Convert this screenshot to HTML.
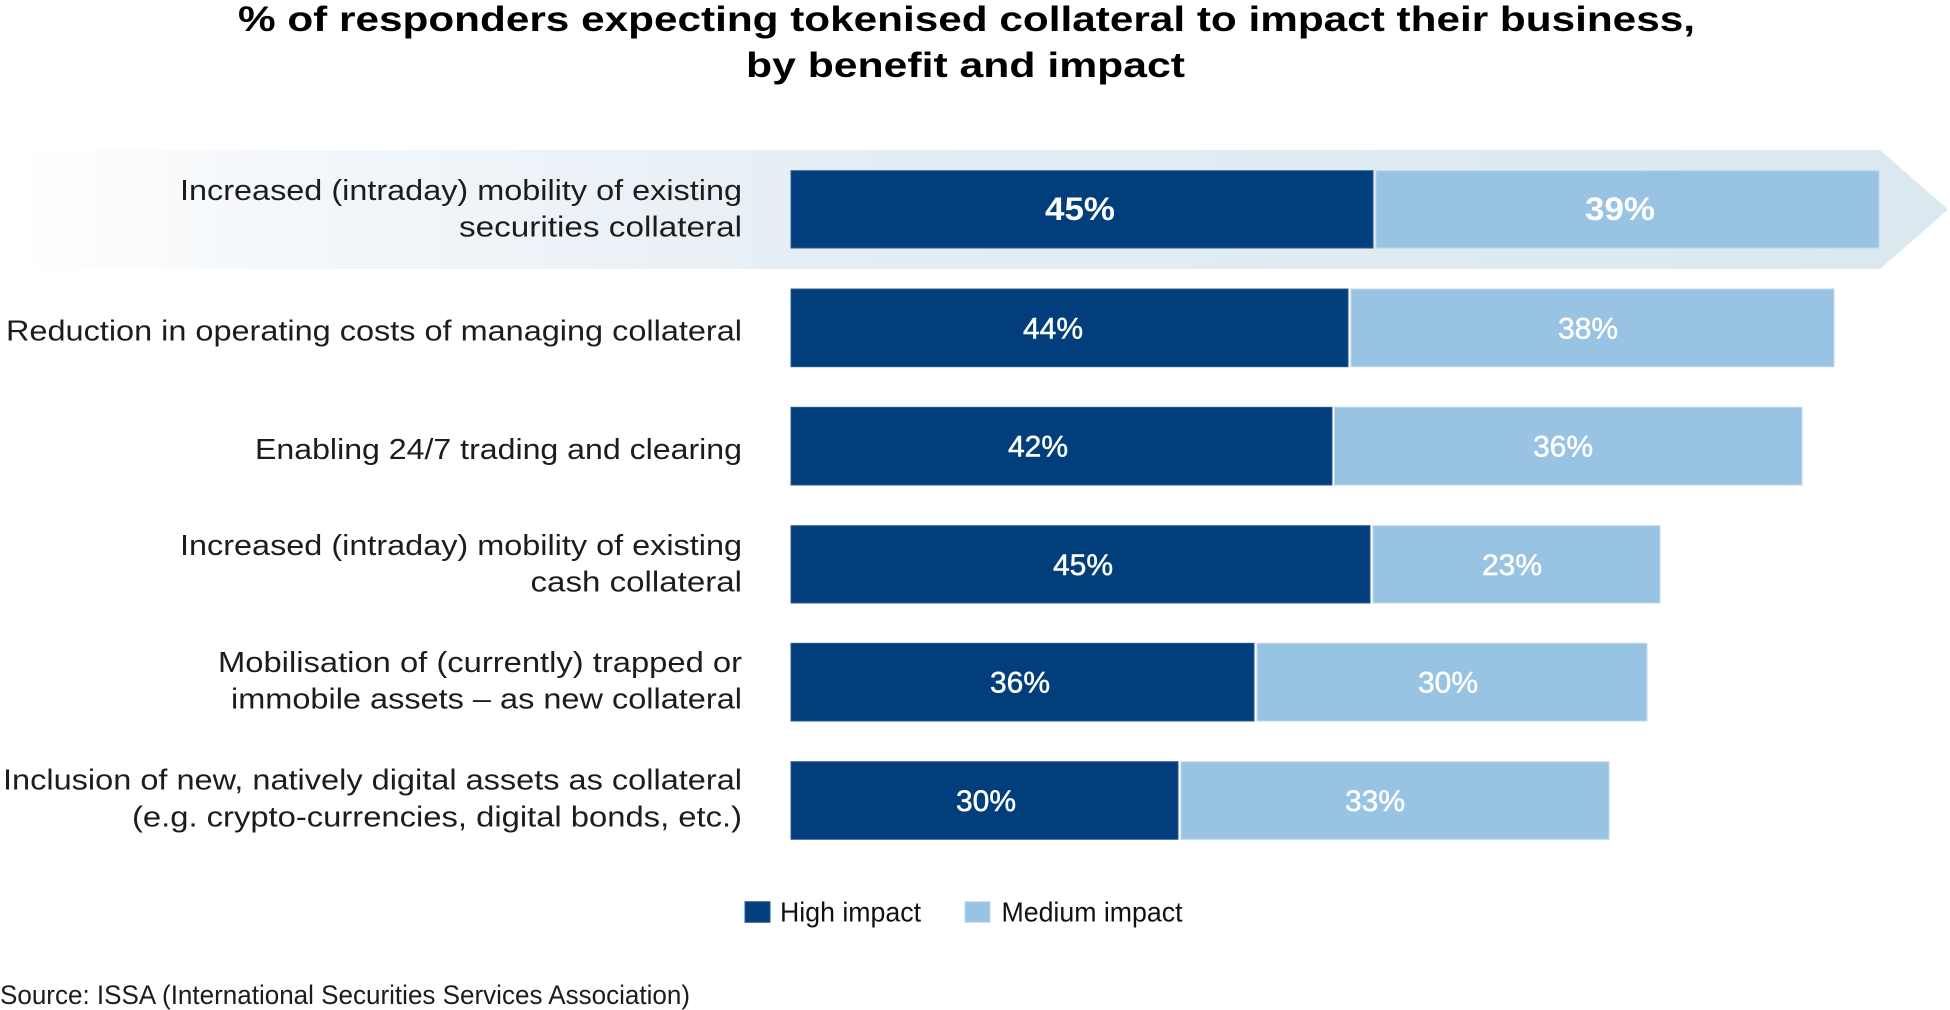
<!DOCTYPE html>
<html>
<head>
<meta charset="utf-8">
<style>
  html, body { margin: 0; padding: 0; background: #ffffff; }
  body { width: 1950px; height: 1010px; overflow: hidden; }
  svg { display: block; }
  .t { font-family: "Liberation Sans", Arial, sans-serif; }
</style>
</head>
<body>
<svg width="1950" height="1010" viewBox="0 0 1950 1010" xmlns="http://www.w3.org/2000/svg">
  <defs>
    <linearGradient id="band" gradientUnits="userSpaceOnUse" x1="20" y1="0" x2="1948" y2="0">
      <stop offset="0" stop-color="#ffffff"/>
      <stop offset="0.12" stop-color="#f5f8fb"/>
      <stop offset="0.45" stop-color="#e3edf4"/>
      <stop offset="1" stop-color="#dbe8f0"/>
    </linearGradient>
  </defs>
  <rect x="0" y="0" width="1950" height="1010" fill="#ffffff"/>

  <!-- Title -->
  <g class="t" font-weight="bold" font-size="35" fill="#000000">
    <text x="238" y="31" textLength="1457" lengthAdjust="spacingAndGlyphs">% of responders expecting tokenised collateral to impact their business,</text>
    <text x="746" y="77" textLength="439" lengthAdjust="spacingAndGlyphs">by benefit and impact</text>
  </g>

  <!-- Highlight arrow band -->
  <polygon points="24,150 1880,150 1948,209.5 1880,269 24,269" fill="url(#band)"/>

  <!-- Bars -->
  <g stroke-width="1">
    <rect x="791" y="170.7" width="582" height="77.3" fill="#023e7b" stroke="#2a5a8e"/>
    <rect x="1376" y="170.7" width="503" height="77.3" fill="#99c3e3" stroke="#bcd8ee"/>

    <rect x="791" y="289" width="557" height="77.7" fill="#023e7b" stroke="#2a5a8e"/>
    <rect x="1351" y="289" width="483" height="77.7" fill="#99c3e3" stroke="#bcd8ee"/>

    <rect x="791" y="407.3" width="541" height="77.7" fill="#023e7b" stroke="#2a5a8e"/>
    <rect x="1334.5" y="407.3" width="467.5" height="77.7" fill="#99c3e3" stroke="#bcd8ee"/>

    <rect x="791" y="525.7" width="579" height="77.3" fill="#023e7b" stroke="#2a5a8e"/>
    <rect x="1373" y="525.7" width="287" height="77.3" fill="#99c3e3" stroke="#bcd8ee"/>

    <rect x="791" y="643.3" width="463" height="77.7" fill="#023e7b" stroke="#2a5a8e"/>
    <rect x="1257" y="643.3" width="390" height="77.7" fill="#99c3e3" stroke="#bcd8ee"/>

    <rect x="791" y="761.7" width="387" height="77.6" fill="#023e7b" stroke="#2a5a8e"/>
    <rect x="1181" y="761.7" width="428" height="77.6" fill="#99c3e3" stroke="#bcd8ee"/>
  </g>

  <!-- Value labels -->
  <g class="t" fill="#ffffff" text-anchor="middle">
    <text x="1080" y="220" font-size="32" font-weight="bold" textLength="70" lengthAdjust="spacingAndGlyphs">45%</text>
    <text x="1620" y="220" font-size="32" font-weight="bold" textLength="70" lengthAdjust="spacingAndGlyphs">39%</text>
  </g>
  <g class="t" fill="#ffffff" text-anchor="middle" font-size="30" stroke="#ffffff" stroke-width="0.5">
    <text x="1053" y="338.5">44%</text>
    <text x="1588" y="338.5">38%</text>
    <text x="1038" y="456.7">42%</text>
    <text x="1563" y="456.7">36%</text>
    <text x="1083" y="575">45%</text>
    <text x="1512" y="575">23%</text>
    <text x="1020" y="692.7">36%</text>
    <text x="1448" y="692.7">30%</text>
    <text x="986" y="811">30%</text>
    <text x="1375" y="811">33%</text>
  </g>

  <!-- Category labels -->
  <g class="t" font-size="29" fill="#1c1c1c">
    <text x="180" y="200" textLength="562" lengthAdjust="spacingAndGlyphs">Increased (intraday) mobility of existing</text>
    <text x="459" y="236.7" textLength="283" lengthAdjust="spacingAndGlyphs">securities collateral</text>

    <text x="6" y="340.7" textLength="736" lengthAdjust="spacingAndGlyphs">Reduction in operating costs of managing collateral</text>

    <text x="255" y="459" textLength="487" lengthAdjust="spacingAndGlyphs">Enabling 24/7 trading and clearing</text>

    <text x="180" y="555" textLength="562" lengthAdjust="spacingAndGlyphs">Increased (intraday) mobility of existing</text>
    <text x="530.5" y="591.7" textLength="211.5" lengthAdjust="spacingAndGlyphs">cash collateral</text>

    <text x="218" y="672" textLength="524" lengthAdjust="spacingAndGlyphs">Mobilisation of (currently) trapped or</text>
    <text x="231" y="708.5" textLength="511" lengthAdjust="spacingAndGlyphs">immobile assets – as new collateral</text>

    <text x="3" y="789.5" textLength="739" lengthAdjust="spacingAndGlyphs">Inclusion of new, natively digital assets as collateral</text>
    <text x="132" y="826.5" textLength="610" lengthAdjust="spacingAndGlyphs">(e.g. crypto-currencies, digital bonds, etc.)</text>
  </g>

  <!-- Legend -->
  <rect x="745" y="901.7" width="25" height="20.6" fill="#023e7b" stroke="#2a5a8e" stroke-width="1"/>
  <rect x="965" y="901.7" width="25" height="20.6" fill="#99c3e3" stroke="#bcd8ee" stroke-width="1"/>
  <g class="t" font-size="28" fill="#111111">
    <text x="780" y="921.7" textLength="141" lengthAdjust="spacingAndGlyphs">High impact</text>
    <text x="1001.5" y="921.7" textLength="181" lengthAdjust="spacingAndGlyphs">Medium impact</text>
  </g>

  <!-- Source -->
  <text class="t" x="0" y="1004" font-size="27" fill="#1c1c1c" textLength="690" lengthAdjust="spacingAndGlyphs">Source: ISSA (International Securities Services Association)</text>
</svg>
</body>
</html>
